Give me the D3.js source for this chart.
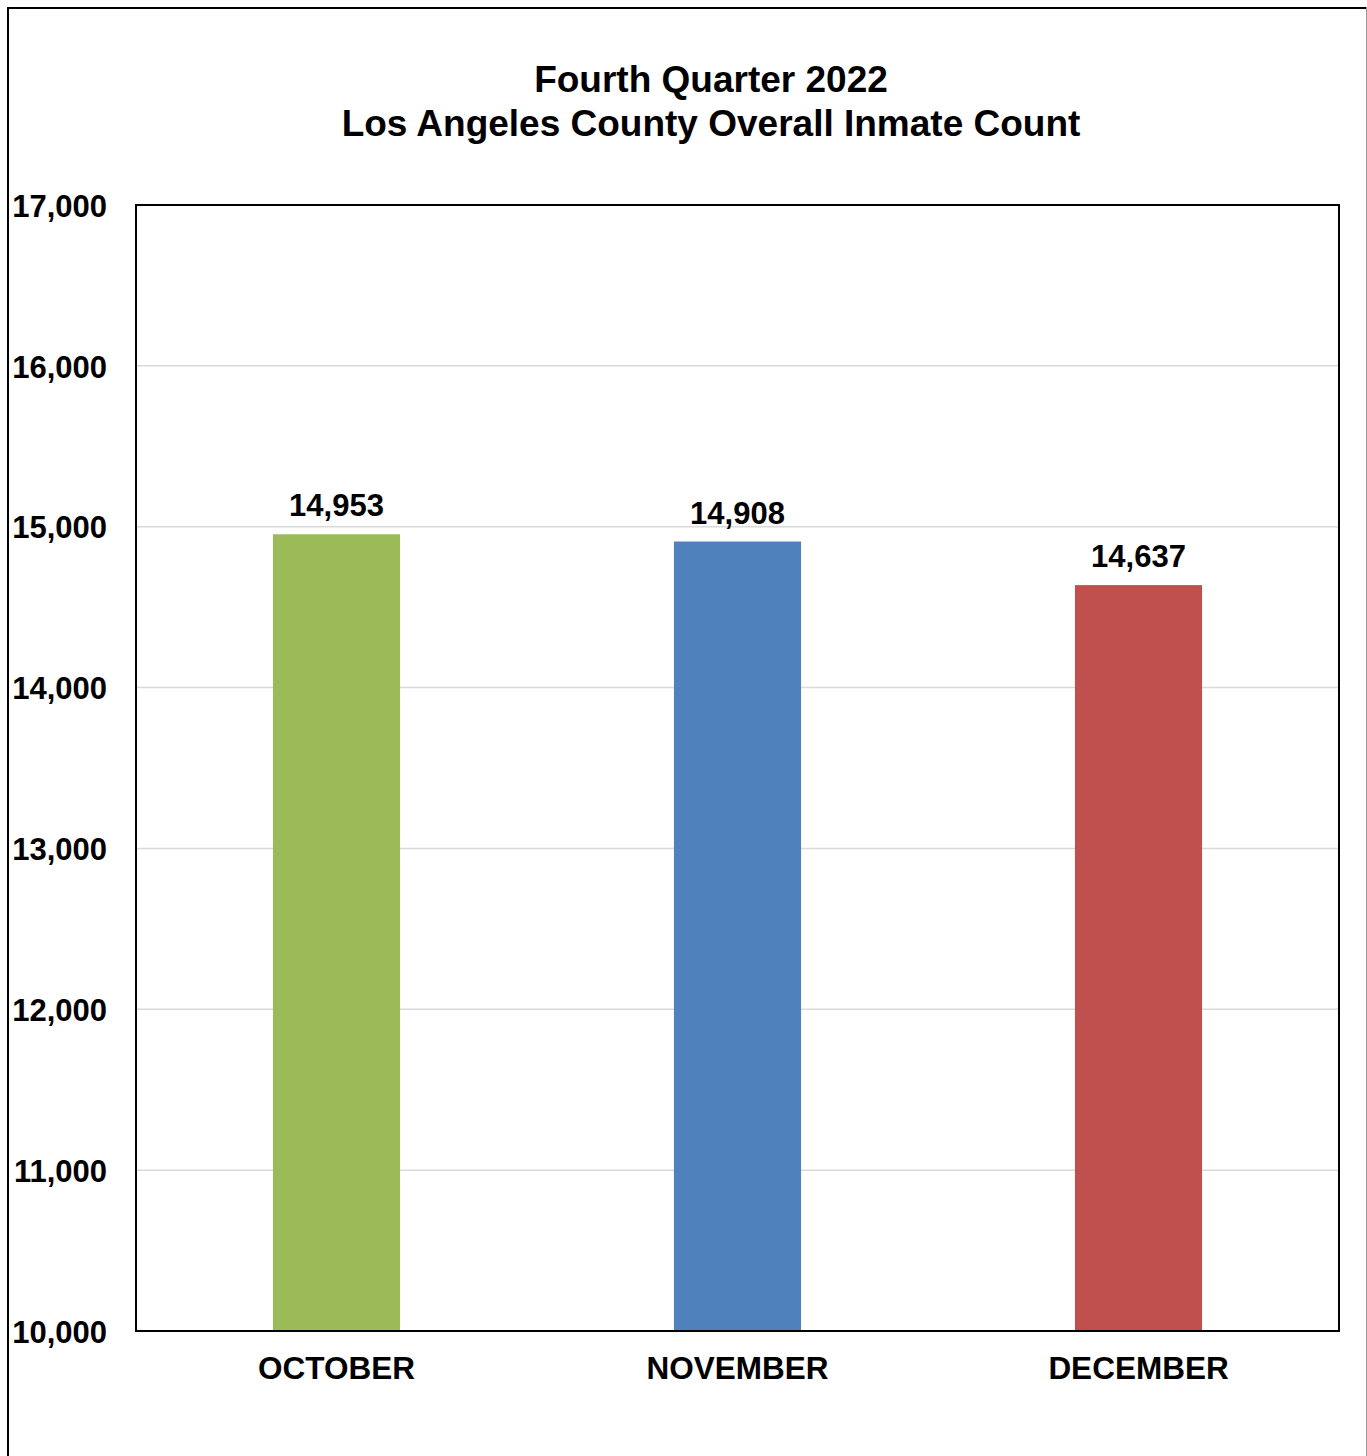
<!DOCTYPE html>
<html lang="en">
<head>
<meta charset="UTF-8" />
<title>Fourth Quarter 2022 Inmate Count</title>
<script src="https://d3js.org/d3.v7.min.js"></script>
<style>
  body { margin: 0; background: #fff; }
  svg text { font-family: "Liberation Sans", Arial, sans-serif; font-weight: bold; fill: #000; }
</style>
</head>
<body>
<svg id="chart" width="1367" height="1456"></svg>
<script>
// data
var months = ["OCTOBER", "NOVEMBER", "DECEMBER"];
var counts = [14953, 14908, 14637];
var barColors = ["#9BBB59", "#4F81BD", "#C0504D"];
var yTicks = [10000, 11000, 12000, 13000, 14000, 15000, 16000, 17000];
var titleLines = ["Fourth Quarter 2022", "Los Angeles County Overall Inmate Count"];

var width = 1367, height = 1456;
// plot area edges (not "top", that one is taken by window.top)
var plotL = 136, plotR = 1339, plotT = 205, plotB = 1331;

var svg = d3.select("#chart");

// outer frame (bottom runs off the picture)
svg.append("line").attr("x1", 8).attr("x2", 8).attr("y1", 7).attr("y2", height)
  .attr("stroke", "#000").attr("stroke-width", 2);
svg.append("line").attr("x1", 7).attr("x2", 1366).attr("y1", 8).attr("y2", 8)
  .attr("stroke", "#000").attr("stroke-width", 2);
svg.append("line").attr("x1", 1366.5).attr("x2", 1366.5).attr("y1", 7).attr("y2", height)
  .attr("stroke", "#999").attr("stroke-width", 1);

var x = d3.scaleBand().domain(months).range([plotL, plotR])
  .paddingInner(0.683).paddingOuter(0.3415);
var y = d3.scaleLinear().domain([10000, 17000]).range([plotB, plotT]);

// title
svg.append("g").selectAll("text").data(titleLines).enter().append("text")
  .attr("x", 711)
  .attr("y", function(d, i) { return 92 + i * 44; })
  .attr("text-anchor", "middle")
  .style("font-size", "37px")
  .text(function(d) { return d; });

// gridlines
svg.append("g").selectAll("line").data(yTicks).enter().append("line")
  .attr("x1", plotL).attr("x2", plotR)
  .attr("y1", function(d) { return y(d); }).attr("y2", function(d) { return y(d); })
  .attr("stroke", "#d9d9d9").attr("stroke-width", 1.5);

// y axis labels
var yAxis = d3.axisLeft(y).tickValues(yTicks).tickSize(0).tickPadding(0)
  .tickFormat(d3.format(","));
svg.append("g").attr("transform", "translate(107,0)").call(yAxis)
  .call(function(g) { g.select(".domain").remove(); })
  .selectAll("text")
  .style("font-size", "31px")
  .attr("dy", "0.36em");

// bars
svg.append("g").selectAll("rect").data(counts).enter().append("rect")
  .attr("x", function(d, i) { return x(months[i]); })
  .attr("width", x.bandwidth())
  .attr("y", function(d) { return y(d); })
  .attr("height", function(d) { return plotB - y(d); })
  .attr("fill", function(d, i) { return barColors[i]; });

// value labels
svg.append("g").selectAll("text").data(counts).enter().append("text")
  .attr("x", function(d, i) { return x(months[i]) + x.bandwidth() / 2; })
  .attr("y", function(d) { return y(d) - 18; })
  .attr("text-anchor", "middle")
  .style("font-size", "31px")
  .text(function(d) { return d3.format(",")(d); });

// plot frame
svg.append("rect").attr("x", plotL).attr("y", plotT)
  .attr("width", plotR - plotL).attr("height", plotB - plotT)
  .attr("fill", "none").attr("stroke", "#000").attr("stroke-width", 2);

// x axis labels
var xAxis = d3.axisBottom(x).tickSize(0).tickPadding(0);
svg.append("g").attr("transform", "translate(0," + plotB + ")").call(xAxis)
  .call(function(g) { g.select(".domain").remove(); })
  .selectAll("text")
  .style("font-size", "31.5px")
  .attr("y", 48)
  .attr("dy", 0);
</script>
</body>
</html>
